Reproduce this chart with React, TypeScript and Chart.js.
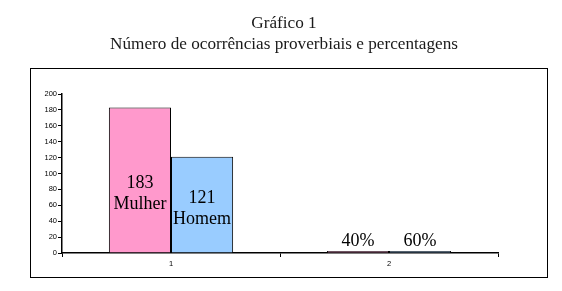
import React, { useEffect, useRef } from "react";
import { Chart, registerables } from "chart.js";

Chart.register(...registerables);

const categories = ["1", "2"];
const mulherValues = [183, 2.5];
const homemValues = [121, 2.5];
const mulherLabels = [["183", "Mulher"], ["40%"]];
const homemLabels = [["121", "Homem"], ["60%"]];
const titleLines = ["Gráfico 1", "Número de ocorrências proverbiais e percentagens"];
const yMin = 0;
const yMax = 200;
const yStep = 20;

const SERIF = "'Liberation Serif', 'Times New Roman', serif";
const SANS = "'Liberation Sans', Arial, sans-serif";

const barLabelPlugin = {
  id: "barLabels",
  afterDatasetsDraw(chart: any) {
    const ctx = chart.ctx;
    const allLabels = [mulherLabels, homemLabels];
    ctx.save();
    ctx.fillStyle = "#000";
    ctx.font = `18px ${SERIF}`;
    ctx.textAlign = "center";
    chart.data.datasets.forEach((_ds: any, di: number) => {
      const meta = chart.getDatasetMeta(di);
      meta.data.forEach((bar: any, i: number) => {
        const lines = allLabels[di][i];
        const h = bar.base - bar.y;
        const lh = 21;
        if (h > 40) {
          const cy = bar.y + h * 0.7 - 15;
          const startY = cy - ((lines.length - 1) * lh) / 2;
          ctx.textBaseline = "middle";
          lines.forEach((t: string, li: number) => ctx.fillText(t, bar.x, startY + li * lh));
        } else {
          ctx.textBaseline = "bottom";
          lines.forEach((t: string, li: number) =>
            ctx.fillText(t, bar.x, bar.y - 1 - (lines.length - 1 - li) * lh)
          );
        }
      });
    });
    ctx.restore();
  },
};

const framePlugin = {
  id: "frame",
  afterDraw(chart: any) {
    const ctx = chart.ctx;
    ctx.save();
    ctx.strokeStyle = "#000";
    ctx.lineWidth = 1;
    ctx.strokeRect(30.5, 68.5, 517, 209);
    ctx.fillStyle = "#1a1a1a";
    ctx.font = `17.2px ${SERIF}`;
    ctx.textAlign = "center";
    ctx.textBaseline = "alphabetic";
    titleLines.forEach((t, i) => ctx.fillText(t, 284, 28 + i * 21));
    ctx.restore();
  },
};

export default function App() {
  const ref = useRef<HTMLCanvasElement | null>(null);
  useEffect(() => {
    document.body.style.margin = "0";
    if (!ref.current) return;
    const chart = new Chart(ref.current, {
      type: "bar",
      data: {
        labels: categories,
        datasets: [
          {
            label: "Mulher",
            data: mulherValues,
            backgroundColor: "#FF99CC",
            borderColor: "#000",
            borderWidth: 1,
            barPercentage: 1,
            categoryPercentage: 0.57,
          },
          {
            label: "Homem",
            data: homemValues,
            backgroundColor: "#99CCFF",
            borderColor: "#000",
            borderWidth: 1,
            barPercentage: 1,
            categoryPercentage: 0.57,
          },
        ],
      },
      options: {
        animation: false,
        responsive: false,
        layout: { padding: { left: 30, right: 64, top: 94, bottom: 20 } },
        plugins: {
          legend: { display: false },
          tooltip: { enabled: false },
          title: { display: false },
        },
        scales: {
          x: {
            offset: true,
            grid: { display: true, drawOnChartArea: false, offset: true, tickLength: 4, color: "#000" },
            border: { display: true, color: "#000", width: 1.5 },
            ticks: { color: "#000", font: { family: SANS, size: 7.5 }, padding: 2 },
            afterFit(scale: any) {
              scale.height = 18;
            },
          },
          y: {
            min: yMin,
            max: yMax,
            grid: { display: true, drawOnChartArea: false, tickLength: 4, color: "#000" },
            border: { display: true, color: "#000", width: 1.5 },
            ticks: { stepSize: yStep, color: "#000", font: { family: SANS, size: 7.5 }, padding: 1 },
            afterFit(scale: any) {
              scale.width = 32;
            },
          },
        },
      },
      plugins: [barLabelPlugin, framePlugin],
    });
    return () => chart.destroy();
  }, []);
  return (
    <div style={{ width: 562, height: 291 }}>
      <canvas ref={ref} width={562} height={291} style={{ display: "block" }} />
    </div>
  );
}
